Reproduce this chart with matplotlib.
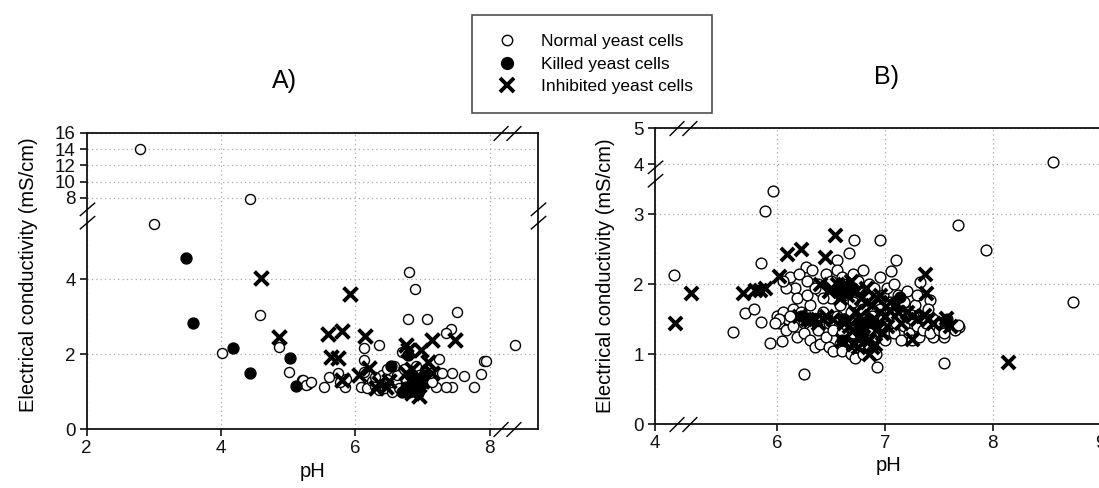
import numpy as np
import matplotlib
matplotlib.use("Agg")
import matplotlib.pyplot as plt
from matplotlib.path import Path
from matplotlib.markers import MarkerStyle
from matplotlib.lines import Line2D

plt.rcParams['font.family'] = ['Liberation Sans', 'DejaVu Sans']

# ---------------- data : panel A ----------------
A_normal_ph = [2.79, 3.00, 4.43, 4.02, 4.58, 4.87, 5.01, 5.21, 5.29, 5.22, 5.27, 5.34, 5.54, 5.61,
               5.74, 5.84, 5.78, 5.86, 6.80, 6.89, 6.78, 7.07, 7.52, 7.42, 7.35, 6.13, 6.36, 8.38,
               7.92, 7.95, 7.87, 7.77, 7.62, 7.44, 7.44, 7.35, 7.20, 7.25, 7.29, 6.13, 6.13, 6.08,
               6.18, 6.25, 6.30, 6.35, 6.40, 6.42, 6.45, 6.50, 6.55, 6.55, 6.60, 6.62, 6.65, 6.70,
               6.72, 6.75, 6.85, 6.90, 6.95, 7.00, 7.05, 7.10, 7.15, 6.48, 6.30, 6.58, 7.12]
A_normal_ec = [14.0, 5.47, 7.9, 2.04, 3.06, 2.19, 1.52, 1.31, 1.21, 1.31, 1.18, 1.27, 1.12, 1.40,
               1.49, 1.14, 1.25, 1.35, 4.20, 3.74, 2.95, 2.95, 3.13, 2.67, 2.58, 2.16, 2.25, 2.24,
               1.83, 1.83, 1.47, 1.12, 1.42, 1.51, 1.14, 1.14, 1.12, 1.87, 1.51, 1.85, 1.54, 1.14,
               1.09, 1.30, 1.15, 1.05, 1.45, 1.20, 1.10, 1.35, 1.00, 1.55, 1.25, 1.45, 1.10, 2.05,
               1.60, 1.35, 1.25, 1.70, 1.45, 1.20, 1.60, 1.35, 1.25, 1.60, 1.40, 1.70, 1.50]

A_killed_ph = [3.48, 3.58, 4.18, 4.43, 5.03, 5.12, 6.78, 6.53, 6.70, 6.80, 6.93, 6.88, 7.03, 6.75,
               6.85, 6.95, 6.98, 6.82]
A_killed_ec = [4.56, 2.83, 2.18, 1.49, 1.89, 1.16, 1.98, 1.69, 1.00, 1.00, 0.96, 1.31, 1.45, 1.14,
               1.10, 1.05, 1.20, 1.45]

A_inhib_ph = [4.59, 4.86, 5.92, 5.60, 5.81, 6.15, 5.64, 5.74, 5.81, 6.06, 6.21, 6.75, 6.78, 7.14,
              7.49, 6.98, 7.08, 7.15, 6.36, 6.46, 6.31, 6.85, 6.90, 6.75, 6.50, 6.95, 7.00, 6.85]
A_inhib_ec = [4.03, 2.47, 3.60, 2.53, 2.62, 2.50, 1.92, 1.89, 1.31, 1.45, 1.63, 2.25, 2.11, 2.38,
              2.38, 2.11, 1.80, 1.49, 1.23, 1.14, 1.09, 0.96, 1.14, 1.49, 1.30, 0.90, 1.30, 1.60]

# ---------------- data : panel B ----------------
B_normal_ph = [4.18, 5.59, 5.70, 5.78, 5.85, 5.93, 6.04, 6.25, 5.96, 5.89, 5.85, 6.71, 6.95, 6.67,
               7.10, 7.06, 6.93, 8.56, 7.68, 7.94, 8.75, 7.55, 7.69, 7.55, 7.45, 7.42, 7.33, 6.55,
               6.16, 6.27,
               6.00, 6.02, 6.05, 6.08, 6.10, 6.12, 6.15, 6.15, 6.18, 6.20, 6.22, 6.25, 6.25, 6.28,
               6.30, 6.30, 6.32, 6.35, 6.35, 6.38, 6.38, 6.40, 6.40, 6.42, 6.45, 6.45, 6.48, 6.48,
               6.50, 6.50, 6.52, 6.52, 6.55, 6.55, 6.55, 6.58, 6.58, 6.60, 6.60, 6.60, 6.62, 6.62,
               6.65, 6.65, 6.65, 6.68, 6.68, 6.70, 6.70, 6.70, 6.72, 6.72, 6.75, 6.75, 6.75, 6.78,
               6.78, 6.80, 6.80, 6.80, 6.82, 6.82, 6.85, 6.85, 6.85, 6.88, 6.88, 6.90, 6.90, 6.90,
               6.92, 6.92, 6.95, 6.95, 6.95, 6.98, 6.98, 7.00, 7.00, 7.02, 7.05, 7.05, 7.08, 7.08,
               7.10, 7.10, 7.12, 7.15, 7.15, 7.18, 7.18, 7.20, 7.22, 7.22, 7.25, 7.25, 7.28, 7.30,
               7.30, 7.32, 7.35, 7.35, 7.38, 7.40, 7.42, 7.45, 7.48, 7.50, 7.52, 7.55, 7.58, 7.60,
               7.65, 7.68, 6.08, 6.05, 6.18, 6.28, 6.42, 6.35, 6.22, 6.12, 6.02, 5.98]
B_normal_ec = [2.13, 1.32, 1.59, 1.64, 1.46, 1.16, 1.18, 0.71, 3.33, 3.05, 2.30, 2.63, 2.63, 2.45,
               2.35, 2.18, 0.81, 4.06, 2.84, 2.48, 1.75, 0.87, 1.39, 1.24, 1.25, 1.77, 2.03, 2.34,
               1.94, 2.24,
               1.55, 1.45, 1.60, 1.35, 1.50, 2.10, 1.40, 1.65, 1.25, 2.15, 1.55, 1.45, 1.30, 2.05,
               1.20, 1.70, 2.20, 1.10, 1.50, 1.35, 2.00, 1.15, 1.90, 1.60, 1.25, 2.15, 1.10, 1.45,
               1.80, 2.05, 1.05, 1.35, 1.55, 1.95, 2.20, 1.15, 1.70, 1.30, 1.05, 2.10, 1.50, 1.85,
               1.20, 1.40, 2.00, 1.00, 1.60, 1.30, 1.75, 2.15, 0.95, 1.45, 1.10, 1.90, 2.05, 1.25,
               1.55, 1.00, 1.65, 2.20, 1.40, 1.85, 1.10, 1.30, 2.00, 1.05, 1.55, 1.20, 1.75, 1.95,
               1.45, 1.00, 1.30, 1.65, 2.10, 1.50, 1.85, 1.40, 1.20, 1.95, 1.55, 1.75, 1.30, 2.00,
               1.45, 1.65, 1.85, 1.20, 1.55, 1.40, 1.75, 1.90, 1.30, 1.60, 1.50, 1.20, 1.70, 1.40,
               1.85, 1.25, 1.55, 1.35, 1.45, 1.65, 1.30, 1.50, 1.40, 1.35, 1.45, 1.30, 1.50, 1.40,
               1.35, 1.42, 1.95, 2.05, 1.80, 1.85, 1.80, 1.95, 1.60, 1.55, 1.50, 1.45]

B_killed_ph = [7.14, 7.57, 6.55, 6.62, 6.70, 6.75, 6.85, 6.90, 6.22, 6.60, 6.65, 6.28, 6.58, 6.80]
B_killed_ec = [1.82, 1.49, 1.90, 1.50, 1.95, 1.45, 1.50, 1.45, 1.55, 1.20, 1.88, 1.52, 1.98, 1.30]

B_inhib_ph = [4.19, 4.33, 5.68, 5.79, 5.84, 5.89, 6.02, 6.09, 6.22, 6.44, 6.54, 8.14, 7.37, 7.38,
              7.57, 7.36, 7.25, 7.05, 6.91, 6.71,
              6.20, 6.28, 6.35, 6.45, 6.50, 6.55, 6.60, 6.62, 6.65, 6.68, 6.70, 6.72, 6.75, 6.78,
              6.80, 6.82, 6.85, 6.88, 6.90, 6.92, 6.95, 7.00, 7.02, 7.10, 7.15, 7.20, 7.30, 7.45,
              7.55, 6.40, 6.60, 6.75, 6.85,
              6.30, 6.38, 6.48, 6.52, 6.58, 6.63, 6.67, 6.73, 6.77, 6.83, 6.87, 6.93, 6.97, 7.05,
              7.12, 7.25, 7.40, 7.60, 6.42, 6.70, 6.78, 6.95, 6.62, 6.88]
B_inhib_ec = [1.44, 1.87, 1.87, 1.91, 1.92, 1.94, 2.11, 2.43, 2.50, 2.39, 2.70, 0.89, 2.14, 1.87,
              1.51, 1.56, 1.22, 1.61, 1.15, 1.15,
              1.55, 1.50, 1.50, 1.55, 1.95, 2.00, 1.90, 1.45, 1.85, 2.05, 1.35, 1.60, 1.25, 1.80,
              1.40, 1.95, 1.20, 1.70, 1.50, 1.35, 1.85, 1.55, 1.40, 1.70, 1.45, 1.60, 1.50, 1.45,
              1.45, 2.00, 1.20, 1.10, 1.00,
              1.48, 1.45, 1.90, 1.50, 1.80, 1.95, 1.40, 1.90, 1.55, 1.75, 1.45, 1.80, 1.30, 1.75,
              1.60, 1.55, 1.50, 1.40, 1.50, 1.15, 1.25, 1.60, 2.00, 1.10]

legend_labels = ["Normal yeast cells", "Killed yeast cells", "Inhibited yeast cells"]

A_xticks = [2, 4, 6, 8]
A_yticks = [0, 2, 4, 8, 10, 12, 14, 16]
B_xticks = [4, 6, 7, 8, 9]
B_yticks = [0, 1, 2, 3, 4, 5]

# ---------------- helpers ----------------
def piecewise(xs, ys):
    xs = np.asarray(xs, float)
    ys = np.asarray(ys, float)
    def f(v):
        v = np.asarray(v, float)
        out = np.interp(v, xs, ys)
        lo_s = (ys[1] - ys[0]) / (xs[1] - xs[0])
        hi_s = (ys[-1] - ys[-2]) / (xs[-1] - xs[-2])
        out = np.where(v < xs[0], ys[0] + (v - xs[0]) * lo_s, out)
        out = np.where(v > xs[-1], ys[-1] + (v - xs[-1]) * hi_s, out)
        return out
    return f

def set_broken_scale(ax, axis, xs, ys):
    fwd = piecewise(xs, ys)
    inv = piecewise(ys, xs)
    if axis == 'y':
        ax.set_yscale('function', functions=(fwd, inv))
    else:
        ax.set_xscale('function', functions=(fwd, inv))

# slash markers
vert_pair = MarkerStyle(Path([(-7.5, -0.5), (7.5, 12.5), (-7.5, -13.5), (7.5, -0.5)],
                             [Path.MOVETO, Path.LINETO, Path.MOVETO, Path.LINETO]))
horiz_pair = MarkerStyle(Path([(-14, -7.5), (1, 7.5), (-1, -7.5), (14, 7.5)],
                              [Path.MOVETO, Path.LINETO, Path.MOVETO, Path.LINETO]))

def slashes_on_y(ax, yval, xs_axes=(0, 1)):
    for xa in xs_axes:
        ax.plot([xa], [yval], transform=ax.get_yaxis_transform(), marker=vert_pair,
                ms=20, mec='black', mew=1.0, ls='none', clip_on=False, zorder=6)

def slashes_on_x(ax, xval, ys_axes=(0, 1)):
    for ya in ys_axes:
        ax.plot([xval], [ya], transform=ax.get_xaxis_transform(), marker=horiz_pair,
                ms=20, mec='black', mew=1.0, ls='none', clip_on=False, zorder=6)

TICK_FS = 13.5
LABEL_FS = 14.5

def style_axes(ax):
    for s in ax.spines.values():
        s.set_linewidth(1.3)
        s.set_color('#111111')
    ax.tick_params(direction='out', length=5, width=1.2, labelsize=TICK_FS, colors='#111111',
                   pad=3)
    ax.grid(True, ls=(0, (1, 2.5)), color='#aaaaaa', lw=0.9)
    ax.set_axisbelow(True)

def draw_points(ax, n_ph, n_ec, k_ph, k_ec, i_ph, i_ec, osize, ksize, xsize):
    ax.scatter(n_ph, n_ec, s=osize, facecolors='white', edgecolors='black', linewidths=1.0,
               zorder=3)
    ax.scatter(k_ph, k_ec, s=ksize, color='black', marker='o', zorder=4)
    ax.scatter(i_ph, i_ec, s=xsize, color='black', marker='x', linewidths=2.8, zorder=5)

# ---------------- figure ----------------
fig = plt.figure(figsize=(10.99, 4.88), dpi=100)

# Panel A
axA = fig.add_axes([0.0789, 0.1203, 0.4105, 0.6078])
set_broken_scale(axA, 'y', [0, 5.7, 6.0, 16], [0, 213.75, 215.0, 296.6])
axA.set_xlim(2, 8.72)
axA.set_ylim(0, 16)
style_axes(axA)
draw_points(axA, A_normal_ph, A_normal_ec, A_killed_ph, A_killed_ec, A_inhib_ph, A_inhib_ec,
            52, 62, 100)
axA.set_xticks(A_xticks)
axA.set_xticklabels([str(t) for t in A_xticks])
axA.set_yticks(A_yticks)
axA.set_yticklabels([str(t) for t in A_yticks])
axA.minorticks_off()
axA.set_xlabel("pH", fontsize=LABEL_FS, labelpad=3)
axA.set_ylabel("Electrical conductivity (mS/cm)", fontsize=LABEL_FS)
axA.yaxis.set_label_coords(-0.108, 0.52)
slashes_on_y(axA, 5.85)
slashes_on_x(axA, 8.26)
fig.text(284 / 1099, 1 - 81 / 488, "A)", fontsize=18, ha='center', va='center')

# Panel B
axB = fig.add_axes([0.5960, 0.1311, 0.4248, 0.6059])
set_broken_scale(axB, 'y', [0, 3.5, 3.8, 5], [0, 245.0, 252.9, 295.7])
set_broken_scale(axB, 'x', [4, 4.35, 5.5, 9.2], [0, 37.7, 68.45, 466.9])
axB.set_xlim(4, 9.2)
axB.set_ylim(0, 5)
style_axes(axB)
draw_points(axB, B_normal_ph, B_normal_ec, B_killed_ph, B_killed_ec, B_inhib_ph, B_inhib_ec,
            60, 60, 90)
axB.set_xticks(B_xticks)
axB.set_xticklabels([str(t) for t in B_xticks])
axB.set_yticks(B_yticks)
axB.set_yticklabels([str(t) for t in B_yticks])
axB.minorticks_off()
axB.set_xlabel("pH", fontsize=LABEL_FS, labelpad=3)
axB.set_ylabel("Electrical conductivity (mS/cm)", fontsize=LABEL_FS)
axB.yaxis.set_label_coords(-0.086, 0.5)
slashes_on_y(axB, 3.72)
slashes_on_x(axB, 4.26)
fig.text(887 / 1099, 1 - 77 / 488, "B)", fontsize=18, ha='center', va='center')

# Legend
handles = [
    Line2D([], [], ls='none', marker='o', ms=7.5, mfc='white', mec='black', mew=1.0),
    Line2D([], [], ls='none', marker='o', ms=8.5, mfc='black', mec='black'),
    Line2D([], [], ls='none', marker='x', ms=9.5, mec='black', mew=2.8),
]
leg = fig.legend(handles, legend_labels, loc='upper left',
                 bbox_to_anchor=(471.7 / 1099, 1 - 15 / 488), borderaxespad=0,
                 frameon=True, fancybox=False, edgecolor='#222222', fontsize=12.5,
                 labelspacing=0.42, borderpad=1.1, handlelength=1.9, handletextpad=1.0)
leg.get_frame().set_linewidth(1.2)

fig.savefig("out.png", dpi=100)
